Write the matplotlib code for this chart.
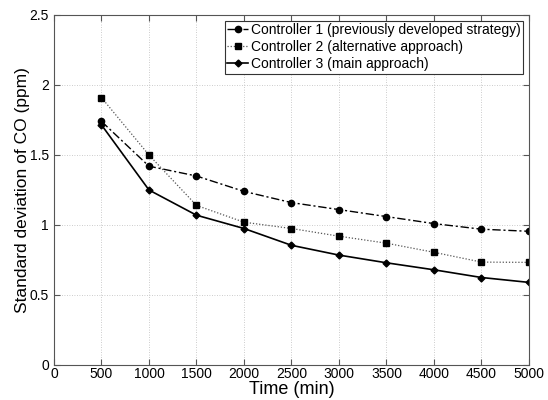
import matplotlib
matplotlib.use('Agg')
import matplotlib.pyplot as plt

plt.rcParams['font.family'] = ['Liberation Sans', 'DejaVu Sans']

# 数据
time_min = [500, 1000, 1500, 2000, 2500, 3000, 3500, 4000, 4500, 5000]
ctrl1 = [1.74, 1.42, 1.35, 1.24, 1.16, 1.11, 1.06, 1.01, 0.97, 0.955]
ctrl2 = [1.91, 1.50, 1.14, 1.02, 0.975, 0.92, 0.87, 0.805, 0.735, 0.733]
ctrl3 = [1.715, 1.25, 1.07, 0.975, 0.855, 0.785, 0.73, 0.68, 0.625, 0.59]

labels = ['Controller 1 (previously developed strategy)',
          'Controller 2 (alternative approach)',
          'Controller 3 (main approach)']
x_ticks = [0, 500, 1000, 1500, 2000, 2500, 3000, 3500, 4000, 4500, 5000]
y_ticks = [0, 0.5, 1, 1.5, 2, 2.5]

fig = plt.figure(figsize=(5.48, 4.0), dpi=100)
ax = fig.add_axes([0.0985, 0.0875, 0.8668, 0.875])

ax.plot(time_min, ctrl1, color='black', linestyle=(0, (6, 2, 1.5, 2)), linewidth=1.0,
        marker='o', markersize=4.5, label=labels[0])
ax.plot(time_min, ctrl2, color='#555555', linestyle=(0, (1, 1.5)), linewidth=0.9,
        marker='s', markersize=4.5, markerfacecolor='black', markeredgecolor='black',
        label=labels[1])
ax.plot(time_min, ctrl3, color='black', linestyle='-', linewidth=1.2,
        marker='D', markersize=3.5, label=labels[2])

ax.set_xlim(0, 5000)
ax.set_ylim(0, 2.5)
ax.set_xticks(x_ticks)
ax.set_yticks(y_ticks)
ax.set_xticklabels([str(t) for t in x_ticks])
ax.set_yticklabels(['0', '0.5', '1', '1.5', '2', '2.5'])
ax.tick_params(direction='in', top=True, right=True, labelsize=10, length=4,
               color='#555555')
ax.tick_params(axis='x', pad=1.5)
ax.grid(True, color='#bbbbbb', linestyle=(0, (1, 2)), linewidth=0.6)
for s in ax.spines.values():
    s.set_color('#555555')
    s.set_linewidth(0.8)

ax.set_xlabel('Time (min)', fontsize=13, labelpad=0)
ax.set_ylabel('Standard deviation of CO (ppm)', fontsize=12.5, labelpad=0)

leg = ax.legend(loc='upper right', fontsize=10, handlelength=1.5, handletextpad=0.2,
                borderpad=0.2, labelspacing=0.2, fancybox=False, framealpha=1,
                borderaxespad=0.4)
leg.get_frame().set_edgecolor('#333333')
leg.get_frame().set_linewidth(0.8)

fig.savefig('out.png', dpi=100, facecolor='white')
plt.close(fig)
